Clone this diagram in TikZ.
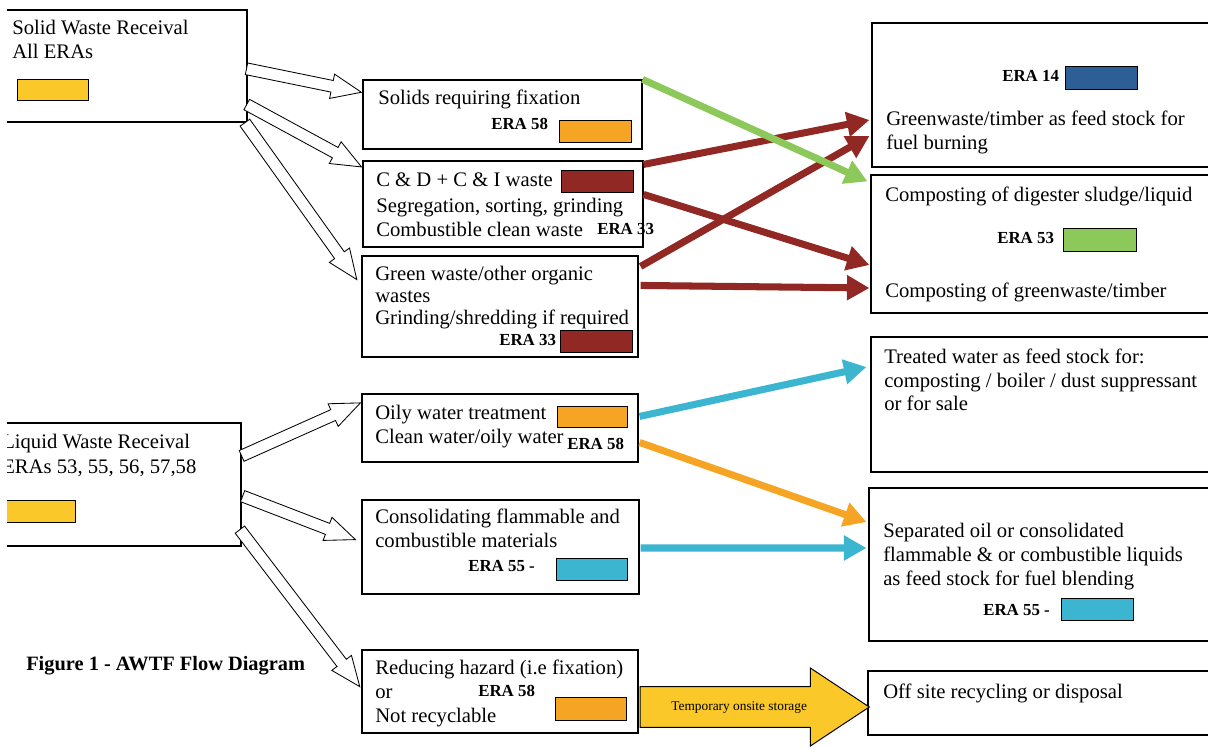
\documentclass[tikz,border=0pt]{standalone}
\usepackage{fontspec}
\setmainfont{Liberation Serif}
\usetikzlibrary{arrows.meta,calc,fit,shapes.arrows}

\definecolor{eraYellow}{RGB}{250,200,40}
\definecolor{eraOrange}{RGB}{245,165,35}
\definecolor{eraBrown}{RGB}{145,40,35}
\definecolor{eraBlue}{RGB}{45,95,150}
\definecolor{eraGreen}{RGB}{140,200,90}
\definecolor{eraCyan}{RGB}{60,182,208}

\tikzset{
  box/.style={draw, line width=0.8pt, inner sep=0pt},
  swatch/.style={draw, line width=0.6pt, inner sep=0pt},
  txt/.style={inner sep=0pt, anchor=base west, font=\fontsize{14.7}{17}\selectfont},
  era/.style={inner sep=0pt, anchor=base west, font=\bfseries\fontsize{12}{14}\selectfont},
  hollow/.style={shape=single arrow, draw, fill=white, line width=0.6pt,
    single arrow head extend=4.6pt, single arrow tip angle=45,
    inner xsep=0pt, inner ysep=3.9pt, minimum width=0pt},
  storage/.style={shape=single arrow, draw, fill=eraYellow, line width=0.7pt,
    single arrow head extend=13.2pt, single arrow tip angle=67,
    inner xsep=4pt, inner ysep=9.7pt, text height=7pt, text depth=2pt,
    minimum width=0pt, font=\fontsize{9.5}{11}\selectfont},
  flow/.style={line width=5pt, -{Triangle[length=16pt,width=17pt]}}
}

\newcommand\hollowarrow[3]{%
  \path let \p1=($(#2)-(#1)$), \n1={atan2(\y1,\x1)}, \n2={veclen(\x1,\y1)} in
    node[hollow, minimum height={\n2*1pt}, rotate=\n1, anchor=tip] (#3) at (#2) {};}

\begin{document}
\begin{tikzpicture}[x=0.025cm, y=-0.025cm]

  \useasboundingbox (0,0) rectangle (1208,748);
  \begin{scope}
  \clip (7,0) rectangle (1208,748);

  \foreach \n/\a/\b/\c/\d in {sw/-10/10/247/122, fix/363/80/642/149, cd/363/161/643/247,
      gw/362/256/638/357, fb/872/23/1215/167, cp/871/175/1215/313, tw/871/337/1215/472,
      so/869/488/1215/641, os/868/671/1215/735, lw/-10/423/241/546, ow/362/394/638/462,
      cf/362/500/639/594, rh/362/650/638/733}
    \node[box, fit={(\a,\b) (\c,\d)}] (\n) {};

  \foreach \n/\a/\b/\c/\d/\col in {sw-c/17/79/88/100/eraYellow, fix-c/559/120/631/142/eraOrange,
      cd-c/561/170/633/192/eraBrown, gw-c/560/330/632/352/eraBrown, fb-c/1065/66/1137/89/eraBlue,
      cp-c/1063/228/1136/251/eraGreen, so-c/1061/598/1133/620/eraCyan, lw-c/-5/500/75/522/eraYellow,
      ow-c/557/406/627/427/eraOrange, cf-c/556/558/627/580/eraCyan, rh-c/555/697/626/720/eraOrange}
    \node[swatch, fill=\col, fit={(\a,\b) (\c,\d)}] (\n) {};

  \foreach [count=\i] \x/\y/\t in {12/35/Solid Waste Receival, 12/59/All ERAs,
      378/105/Solids requiring fixation,
      376/187/{C \& D + C \& I waste}, 376/212/{Segregation, sorting, grinding}, 376/236/Combustible clean waste,
      375/280/{Green waste/other organic}, 375/302/wastes, 375/324/{Grinding/shredding if required},
      886/126/{Greenwaste/timber as feed stock for}, 886/150/fuel burning,
      885/201/{Composting of digester sludge/liquid}, 885/297/{Composting of greenwaste/timber},
      884/363/{Treated water as feed stock for:}, 884/387/{composting / boiler / dust suppressant}, 884/410/or for sale,
      883/537/Separated oil or consolidated, 883/561/{flammable \& or combustible liquids}, 883/585/as feed stock for fuel blending,
      883/698/Off site recycling or disposal,
      2/448/Liquid Waste Receival, 2/473/{ERAs 53, 55, 56, 57,58},
      375/419/Oily water treatment, 375/443/{Clean water/oily water},
      375/523/Consolidating flammable and, 375/547/combustible materials,
      375/674/{Reducing hazard (i.e fixation)}, 375/698/or, 375/722/Not recyclable}
    \node[txt] (l\i) at (\x,\y) {\t};

  \foreach [count=\i] \x/\y/\t in {491/130/ERA 58, 597/234/ERA 33, 499/345/ERA 33, 1002/82/ERA 14,
      997/243/ERA 53, 983/615/ERA 55 -, 567/449/ERA 58, 468/571/ERA 55 -, 478/696/ERA 58}
    \node[era] (e\i) at (\x,\y) {\t};

  \node[txt, font=\bfseries\fontsize{14.5}{17}\selectfont] (cap) at (26,670) {Figure 1 - AWTF Flow Diagram};

  \hollowarrow{[shift={(0,3)}]sw.east}{[shift={(0,-22)}]fix.west}{h1}
  \hollowarrow{[shift={(0,39)}]sw.east}{[shift={(0,7)}]cd.north west}{h2}
  \hollowarrow{[shift={(-2,1)}]sw.south east}{[shift={(-4,25)}]gw.north west}{h3}
  \hollowarrow{[shift={(1,-29)}]lw.east}{[shift={(0,9)}]ow.north west}{h4}
  \hollowarrow{[shift={(2,12)}]lw.east}{[shift={(-5,-7)}]cf.west}{h5}
  \hollowarrow{[shift={(-1,46)}]lw.east}{[shift={(-1,-4)}]rh.west}{h6}

  \draw[flow, eraBrown] ([shift={(0,4)}]cd.north east) -- ([shift={(-2,25)}]fb.west);
  \draw[flow, eraBrown] ([shift={(2,11)}]gw.north east) -- ([shift={(-2,41)}]fb.west);
  \draw[flow, eraBrown] ([shift={(0,34)}]cd.north east) -- ([shift={(-1,21)}]cp.west);
  \draw[flow, eraBrown] ([shift={(2,30)}]gw.north east) -- ([shift={(-1,44)}]cp.west);
  \draw[flow, eraGreen] (fix.north east) -- ([shift={(-3,7)}]cp.north west);
  \draw[flow, eraCyan] ([shift={(1,23)}]ow.north east) -- ([shift={(-4,-37.5)}]tw.west);
  \draw[flow, eraOrange] ([shift={(1,49)}]ow.north east) -- ([shift={(-2,-42.5)}]so.west);
  \draw[flow, eraCyan] ([shift={(1,1)}]cf.east) -- ([shift={(-2,-16.5)}]so.west);

  \node[storage, anchor=tail, minimum height=163pt] (tmp) at ([shift={(1,15.5)}]rh.east) {Temporary onsite storage};

  \end{scope}
\end{tikzpicture}
\end{document}
